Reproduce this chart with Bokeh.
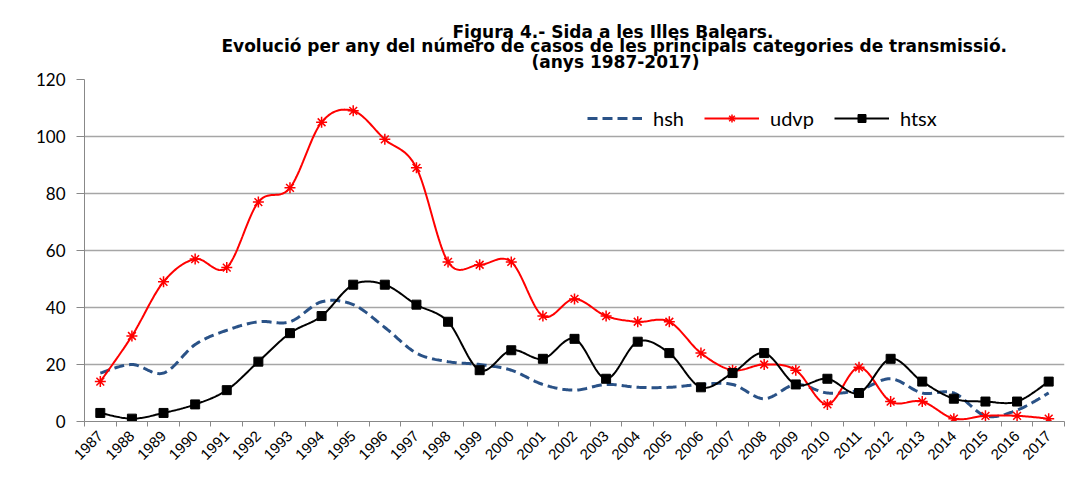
import numpy as np
from bokeh.plotting import figure
from bokeh.models import FixedTicker, Legend, LegendItem, Range1d, Title
from bokeh.embed import file_html
from bokeh.resources import INLINE

years = [str(y) for y in range(1987, 2018)]
hsh = [17, 20, 17, 27, 32, 35, 35, 42, 41, 33, 24, 21, 20, 18, 13, 11, 13, 12, 12, 13, 13, 8, 13, 10, 11, 15, 10, 10, 2, 4, 10]
udvp = [14, 30, 49, 57, 54, 77, 82, 105, 109, 99, 89, 56, 55, 56, 37, 43, 37, 35, 35, 24, 18, 20, 18, 6, 19, 7, 7, 1, 2, 2, 1]
htsx = [3, 1, 3, 6, 11, 21, 31, 37, 48, 48, 41, 35, 18, 25, 22, 29, 15, 28, 24, 12, 17, 24, 13, 15, 10, 22, 14, 8, 7, 7, 14]
y_ticks = [0, 20, 40, 60, 80, 100, 120]

title_lines = ["Figura 4.- Sida a les Illes Balears.",
               "Evolució  per any del número de casos de les principals categories de transmissió.",
               "(anys 1987-2017)"]

xs = np.arange(len(years)) + 0.5


def smooth(x, y, n=24):
    """Excel-like smoothed line: cubic Bezier with Catmull-Rom control points."""
    P = np.column_stack([np.asarray(x, float), np.asarray(y, float)])
    out = []
    m = len(P)
    for i in range(m - 1):
        p0 = P[i - 1] if i > 0 else P[i]
        p1 = P[i]
        p2 = P[i + 1]
        p3 = P[i + 2] if i + 2 < m else P[i + 1]
        c1 = p1 + (p2 - p0) / 6.0
        c2 = p2 - (p3 - p1) / 6.0
        t = np.linspace(0, 1, n, endpoint=(i == m - 2))[:, None]
        seg = ((1 - t) ** 3) * p1 + 3 * ((1 - t) ** 2) * t * c1 + 3 * (1 - t) * t ** 2 * c2 + t ** 3 * p2
        out.append(seg)
    out = np.vstack(out)
    return out[:, 0], out[:, 1]


W, H = 1077, 484
p = figure(width=W, height=H, output_backend="svg", toolbar_location=None,
           x_range=Range1d(0, len(years)), y_range=Range1d(0, 120),
           min_border_left=84, min_border_right=13, min_border_top=79, min_border_bottom=63)
p.outline_line_color = None
p.background_fill_color = "white"
p.border_fill_color = "white"
p.title = None

title_offsets = [368, 137, 447]
title_standoffs = [2, -26, 15]
for t, off, so in reversed(list(zip(title_lines, title_offsets, title_standoffs))):
    p.add_layout(Title(text=t, align="left", offset=off, text_font="DejaVu Sans",
                       text_font_style="bold", text_font_size="17px", text_color="black",
                       standoff=so), "above")

# x axis
xa = p.xaxis[0]
xa.ticker = FixedTicker(ticks=list(xs), minor_ticks=list(range(len(years) + 1)))
xa.major_label_overrides = {float(v): yr for v, yr in zip(xs, years)}
xa.major_tick_out = 0
xa.major_tick_in = 0
xa.minor_tick_out = 5
xa.minor_tick_in = 0
xa.minor_tick_line_color = "#888888"
xa.axis_line_color = "#888888"
xa.major_label_orientation = np.pi / 4
xa.major_label_text_font = "Liberation Sans"
xa.major_label_text_font_size = "15px"
xa.major_label_text_color = "black"
xa.major_label_standoff = 7

ya = p.yaxis[0]
ya.ticker = FixedTicker(ticks=y_ticks)
ya.major_tick_out = 8
ya.major_tick_in = 0
ya.minor_tick_out = 0
ya.minor_tick_in = 0
ya.major_tick_line_color = "#888888"
ya.axis_line_color = "#888888"
ya.major_label_text_font = "Lato"
ya.major_label_text_font_size = "17px"
ya.major_label_text_color = "black"
ya.major_label_standoff = 11

p.xgrid.grid_line_color = None
p.ygrid.ticker = FixedTicker(ticks=y_ticks)
p.ygrid.grid_line_color = "#a6a6a6"
p.ygrid.grid_line_width = 1.5

sx, sy = smooth(xs, hsh)
r_hsh = p.line(sx, sy, line_color="#2a5287", line_width=3, line_dash="10 5")
sx, sy = smooth(xs, udvp)
r_udvp_l = p.line(sx, sy, line_color="#ff0000", line_width=2)
r_udvp_m = p.scatter(xs, udvp, marker="asterisk", size=11, line_color="#ff0000", line_width=1.5)
sx, sy = smooth(xs, htsx)
r_htsx_l = p.line(sx, sy, line_color="black", line_width=2)
r_htsx_m = p.scatter(xs, htsx, marker="square", size=9, fill_color="black", line_color="black")

legend = Legend(items=[LegendItem(label="hsh", renderers=[r_hsh]),
                       LegendItem(label="udvp", renderers=[r_udvp_l, r_udvp_m]),
                       LegendItem(label="htsx", renderers=[r_htsx_l, r_htsx_m])],
                orientation="horizontal", location=(503, 291),
                glyph_width=55, glyph_height=20, label_standoff=11, spacing=20,
                padding=0, margin=0, border_line_color=None, background_fill_alpha=0,
                label_text_font="Lato", label_text_font_size="20px", label_text_color="black")
p.add_layout(legend, "center")

open("out.html", "w").write(file_html(p, INLINE))
